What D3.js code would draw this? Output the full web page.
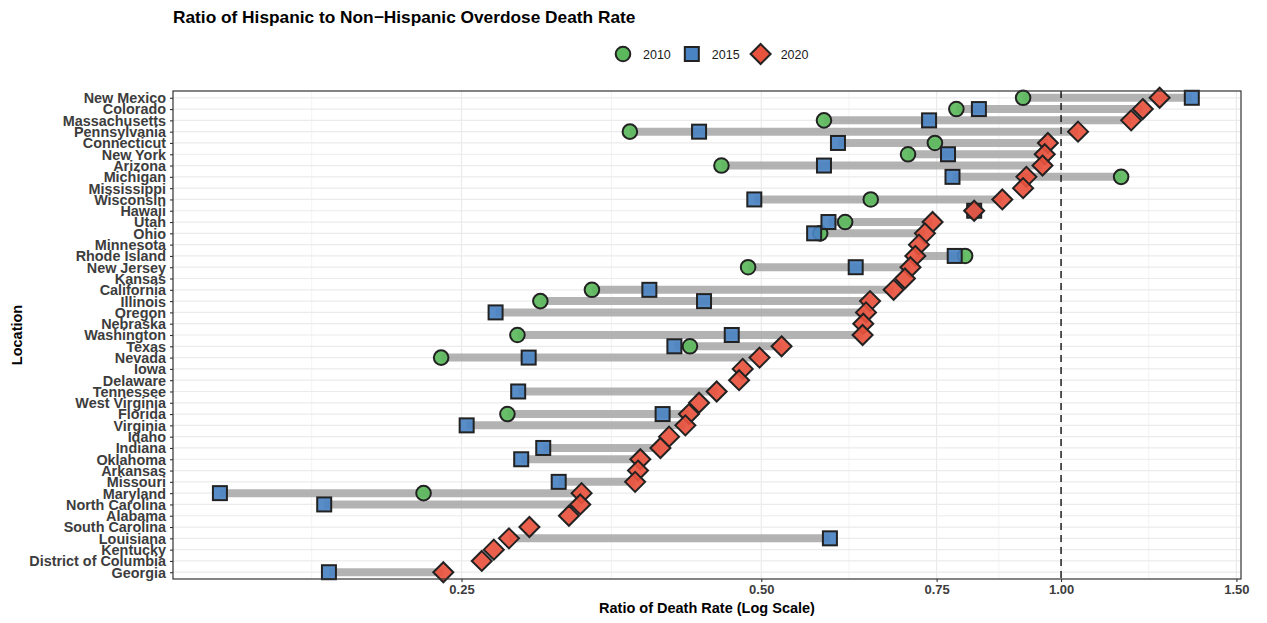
<!DOCTYPE html>
<html>
<head>
<meta charset="utf-8">
<script src="https://cdn.jsdelivr.net/npm/d3@7"></script>
<style>
  html, body { margin: 0; padding: 0; background: #fff; }
  svg { display: block; font-family: "Liberation Sans", Arial, sans-serif; }
</style>
</head>
<body>
<svg id="chart" width="1267" height="623"></svg>
<script>
// ---- data ----
const locations = ["New Mexico","Colorado","Massachusetts","Pennsylvania","Connecticut","New York","Arizona","Michigan","Mississippi","Wisconsin","Hawaii","Utah","Ohio","Minnesota","Rhode Island","New Jersey","Kansas","California","Illinois","Oregon","Nebraska","Washington","Texas","Nevada","Iowa","Delaware","Tennessee","West Virginia","Florida","Virginia","Idaho","Indiana","Oklahoma","Arkansas","Missouri","Maryland","North Carolina","Alabama","South Carolina","Louisiana","Kentucky","District of Columbia","Georgia"];
const years = ["2010","2015","2020"];
// null = no value for that year
const values2010 = [0.916,0.785,0.578,0.369,0.747,0.702,0.456,1.149,null,0.644,null,0.607,0.573,null,0.801,0.485,null,0.338,0.300,null,null,0.2845,0.424,0.2385,null,null,null,null,0.278,null,null,null,null,null,null,0.229,null,null,null,null,null,null,null];
const values2015 = [1.353,0.827,0.737,0.433,0.597,0.770,0.578,0.778,null,0.492,0.818,0.584,0.565,null,0.782,0.622,null,0.386,0.438,0.2705,null,0.467,0.409,0.292,null,null,0.285,null,0.398,0.253,null,0.302,0.287,null,0.313,0.143,0.182,null,null,0.586,null,null,0.184];
const values2020 = [1.256,1.208,1.176,1.040,0.970,0.963,0.958,0.923,0.916,0.873,0.818,0.743,0.730,0.720,0.714,0.706,0.697,0.679,0.643,0.637,0.633,0.632,0.524,0.498,0.479,0.475,0.451,0.433,0.423,0.4195,0.404,0.396,0.378,0.376,0.3735,0.330,0.329,0.3205,0.2925,0.279,0.2694,0.262,0.2397];
const xTicks = [0.25, 0.5, 0.75, 1.0, 1.5];
const xTickLabels = ["0.25","0.50","0.75","1.00","1.50"];
const xMinor = [0.1768, 0.3536, 0.6124, 0.866, 1.2247];
const refLine = 1.0;

const colors = {"2010": "#5cb85c", "2015": "#4a83c3", "2020": "#e8533d"};

// ---- layout ----
const svg = d3.select("#chart");
const margin = {left: 173, right: 1241, top: 91, bottom: 579};

const x = d3.scaleLog().domain([0.1283, 1.516]).range([margin.left, margin.right]);
const y = d3.scalePoint().domain(locations).range([margin.top, margin.bottom]).padding(0.6);

// grid
const g = svg.append("g");
g.selectAll(".minor").data(xMinor).join("line")
  .attr("x1", d => x(d)).attr("x2", d => x(d))
  .attr("y1", margin.top).attr("y2", margin.bottom)
  .attr("stroke", "#ebebeb").attr("stroke-width", 0.6);
g.selectAll(".major").data(xTicks).join("line")
  .attr("x1", d => x(d)).attr("x2", d => x(d))
  .attr("y1", margin.top).attr("y2", margin.bottom)
  .attr("stroke", "#ebebeb").attr("stroke-width", 1.2);
g.selectAll(".hgrid").data(locations).join("line")
  .attr("x1", margin.left).attr("x2", margin.right)
  .attr("y1", d => y(d)).attr("y2", d => y(d))
  .attr("stroke", "#ebebeb").attr("stroke-width", 1.2);

// rows
const rows = locations.map((loc, i) => ({
  loc,
  pts: [
    {year: "2010", v: values2010[i]},
    {year: "2015", v: values2015[i]},
    {year: "2020", v: values2020[i]}
  ].filter(p => p.v != null)
}));

// segments
svg.append("g").selectAll("line").data(rows.filter(r => r.pts.length > 1)).join("line")
  .attr("x1", r => x(d3.min(r.pts, p => p.v)))
  .attr("x2", r => x(d3.max(r.pts, p => p.v)))
  .attr("y1", r => y(r.loc)).attr("y2", r => y(r.loc))
  .attr("stroke", "#a6a6a6").attr("stroke-opacity", 0.85).attr("stroke-width", 8);

// reference line
svg.append("line")
  .attr("x1", x(refLine)).attr("x2", x(refLine))
  .attr("y1", margin.top).attr("y2", margin.bottom)
  .attr("stroke", "#000").attr("stroke-width", 1.3).attr("stroke-dasharray", "7,5");

function drawShape(sel, year, cx, cy) {
  if (year === "2010") {
    sel.append("circle").attr("cx", cx).attr("cy", cy).attr("r", 7.3);
  } else if (year === "2015") {
    const h = 7;
    sel.append("rect").attr("x", cx - h).attr("y", cy - h).attr("width", 2 * h).attr("height", 2 * h);
  } else {
    const h = 10;
    sel.append("path").attr("d", `M${cx},${cy - h}L${cx + h},${cy}L${cx},${cy + h}L${cx - h},${cy}Z`);
  }
}

years.forEach(yr => {
  const layer = svg.append("g")
    .attr("fill", colors[yr]).attr("fill-opacity", 0.92)
    .attr("stroke", "#222").attr("stroke-width", 2);
  rows.forEach(r => {
    r.pts.filter(p => p.year === yr).forEach(p => {
      drawShape(layer, yr, x(p.v), y(r.loc));
    });
  });
});

// panel border
svg.append("rect")
  .attr("x", margin.left).attr("y", margin.top)
  .attr("width", margin.right - margin.left).attr("height", margin.bottom - margin.top)
  .attr("fill", "none").attr("stroke", "#333").attr("stroke-width", 1.2);

// y axis
const yAxis = svg.append("g").attr("transform", `translate(${margin.left},0)`)
  .call(d3.axisLeft(y).tickSize(3).tickPadding(4));
yAxis.select(".domain").remove();
yAxis.selectAll(".tick line").attr("stroke", "#333").attr("stroke-width", 1.1);
yAxis.selectAll(".tick text")
  .attr("fill", "#3d3d3d").style("font-size", "14.4px").style("font-weight", "bold")
  .attr("dy", "0.34em");

// x axis
const xAxis = svg.append("g").attr("transform", `translate(0,${margin.bottom})`)
  .call(d3.axisBottom(x).tickValues(xTicks).tickFormat((d, i) => xTickLabels[i]).tickSize(3).tickPadding(3));
xAxis.select(".domain").remove();
xAxis.selectAll(".tick line").attr("stroke", "#333").attr("stroke-width", 1.1);
xAxis.selectAll(".tick text")
  .attr("fill", "#3d3d3d").style("font-size", "13px").style("font-weight", "bold");

// axis titles
svg.append("text")
  .attr("x", (margin.left + margin.right) / 2).attr("y", 613)
  .attr("text-anchor", "middle").style("font-size", "14.5px").style("font-weight", "bold")
  .attr("fill", "#000").text("Ratio of Death Rate (Log Scale)");
svg.append("text")
  .attr("transform", `translate(22,${(margin.top + margin.bottom) / 2}) rotate(-90)`)
  .attr("text-anchor", "middle").style("font-size", "14.5px").style("font-weight", "bold")
  .attr("fill", "#000").text("Location");

// title
svg.append("text")
  .attr("x", 173).attr("y", 23)
  .style("font-size", "17.3px").style("font-weight", "bold")
  .attr("fill", "#000").text("Ratio of Hispanic to Non\u2212Hispanic Overdose Death Rate");

// legend
const legend = svg.append("g");
let cx = 623;
years.forEach(yr => {
  const item = legend.append("g")
    .attr("fill", colors[yr]).attr("stroke", "#222").attr("stroke-width", 2);
  drawShape(item, yr, cx, 54);
  const t = legend.append("text").attr("x", cx + 20).attr("y", 58.5)
    .style("font-size", "12.5px").attr("fill", "#1a1a1a").text(yr);
  cx = cx + 20 + t.node().getComputedTextLength() + 21;
});
</script>
</body>
</html>
